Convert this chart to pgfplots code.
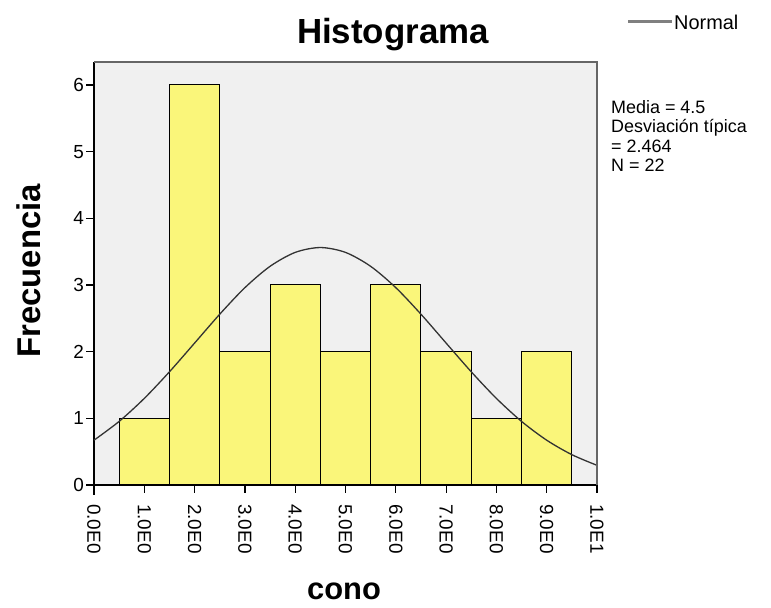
\documentclass[border=0pt]{standalone}
\usepackage{pgfplots}
\pgfplotsset{compat=1.18}
\usepackage{fontspec}
\setmainfont{Liberation Sans}
\definecolor{bgc}{HTML}{F0F0F0}
\definecolor{barc}{HTML}{FAF67A}
\definecolor{curvec}{HTML}{333333}
\begin{document}
\begin{tikzpicture}[x=1bp,y=1bp]
\begin{axis}[
  at={(94bp,123bp)}, anchor=south west,
  scale only axis, width=503bp, height=423bp,
  xmin=0, xmax=10, ymin=0, ymax=6.345,
  axis background/.style={fill=bgc},
  axis x line*=bottom, axis y line*=left,
  axis line style={black, line width=1.2bp, -},
  xtick={0,1,...,10},
  xticklabels={0.0E0,1.0E0,2.0E0,3.0E0,4.0E0,5.0E0,6.0E0,7.0E0,8.0E0,9.0E0,1.0E1},
  ytick={0,1,...,6},
  tick align=outside, major tick length=8bp,
  tick style={black, line width=1.2bp},
  xticklabel style={rotate=-90, anchor=west, font=\fontsize{19}{19}\selectfont, inner sep=2bp, xshift=9bp},
  yticklabel style={font=\fontsize{19}{19}\selectfont, inner sep=2bp},
  /pgf/number format/assume math mode=true,
  clip=false,
]
\addplot[ybar interval, fill=barc, draw=black, line width=1bp] coordinates {
  (0.5,1) (1.5,6) (2.5,2) (3.5,3) (4.5,2) (5.5,3) (6.5,2) (7.5,1) (8.5,2) (9.5,0)
};
\addplot[smooth, curvec, line width=1.3bp] coordinates {
  (0,0.672) (0.5,0.954) (1,1.299) (1.5,1.698) (2,2.129) (2.5,2.562) (3,2.960)
  (3.5,3.280) (4,3.489) (4.5,3.562) (5,3.489) (5.5,3.280) (6,2.960) (6.5,2.562)
  (7,2.129) (7.5,1.698) (8,1.299) (8.5,0.954) (9,0.672) (9.5,0.455) (10,0.295)
};
\draw[gray!80!black, line width=1.2bp] (rel axis cs:1,0) -- (rel axis cs:1,1) -- (rel axis cs:0,1);
\draw[black, line width=1.2bp] (rel axis cs:0,0) -- ++(0,-10bp);
\end{axis}
\node[font=\fontsize{35}{35}\selectfont\bfseries] at (393bp,573bp) {Histograma};
\node[font=\fontsize{33}{33}\selectfont\bfseries, rotate=90] at (29bp,337bp) {Frecuencia};
\node[font=\fontsize{31}{31}\selectfont\bfseries] at (344bp,17bp) {cono};
\draw[gray, line width=3bp] (628bp,586bp) -- (672bp,586bp);
\node[anchor=west, inner sep=1bp, font=\fontsize{20}{20}\selectfont] at (673bp,586bp) {Normal};
\node[anchor=north west, align=left, inner sep=0pt, font=\fontsize{18}{19.5}\selectfont] at (611bp,508bp) {Media = 4.5\\Desviación típica\\= 2.464\\N = 22};
\pgfresetboundingbox
\path[use as bounding box] (0,0) rectangle (771bp,608bp);
\end{tikzpicture}
\end{document}
